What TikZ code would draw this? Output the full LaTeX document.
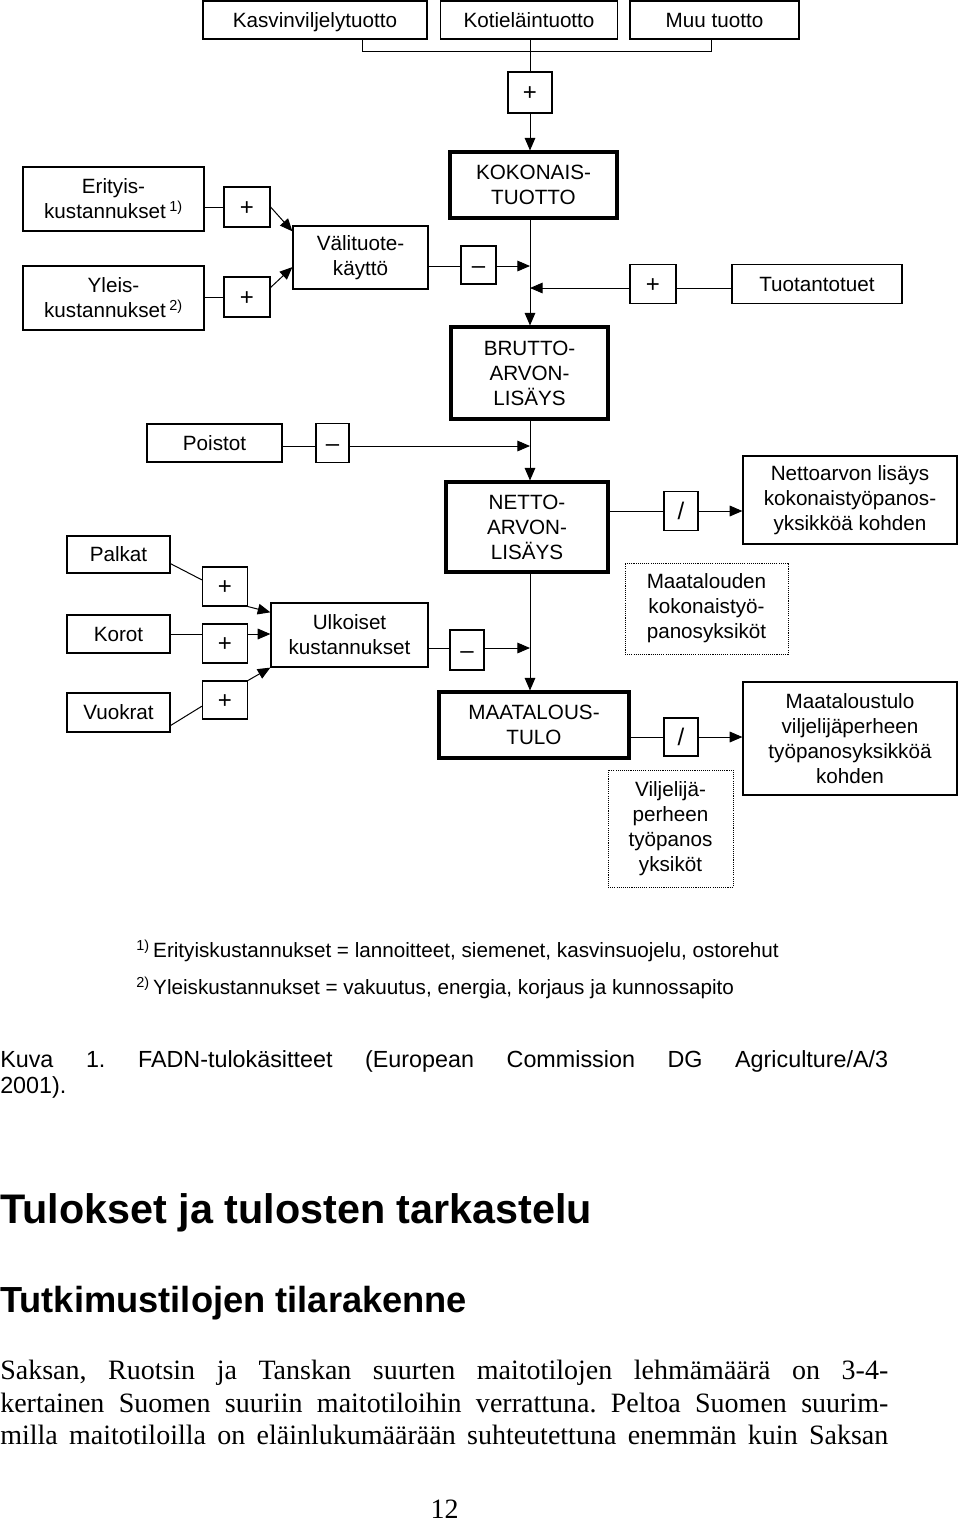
\documentclass[tikz,border=0pt]{standalone}
\usepackage{fontspec}
\setmainfont{Liberation Serif}
\setsansfont{Liberation Sans}
\usetikzlibrary{arrows.meta, calc}
\frenchspacing

\begin{document}
\begin{tikzpicture}[x=0.75pt, y=-0.75pt,
        sz/.style 2 args={minimum width=#1*0.75pt, minimum height=#2*0.75pt},
        box/.style={draw, line width=0.9pt, inner sep=0pt, align=center,
            font=\sffamily\fontsize{15.5}{18.75}\selectfont},
        one/.style={text height=11.1pt, text depth=0pt},
        opbox/.style={box, font=\sffamily\fontsize{18}{20}\selectfont, text height=12pt, text depth=0pt},
        thickbox/.style={box, line width=2.3pt},
        dotbox/.style={box, line width=0.7pt, dash pattern=on 0.8pt off 0.8pt},
        conn/.style={line width=0.75pt},
        arr/.style={conn, -{Triangle[length=9.5pt,width=8pt]}},
        txt/.style={inner sep=0pt, anchor=base west}]
                    \path[use as bounding box, fill=white] (0,0) rectangle (960,1522);

                    %products
                    \node[box, one, sz={224}{38}] (kasv) at (315,20) {Kasvinviljelytuotto};
                    \node[box, one, sz={177}{38}] (kotiel) at (529,20) {Kotieläintuotto};
                    \node[box, one, sz={169}{38}] (muu) at (714.5,20) {Muu tuotto};
                    \node[opbox, sz={44}{41}] (pl0) at (530,92.5) {+};
                    \coordinate (t1) at (362,51);
                    \coordinate (t2) at (711,51);
                    \draw[conn] (t1 |- kasv.south) -- (t1) -- (t2) -- (t2 |- muu.south);
                    \draw[conn] (pl0.north |- kotiel.south) -- (pl0.north);

                    %main column
                    \node[thickbox, sz={167}{66}] (kok) at (533.5,185) {KOKONAIS-\\TUOTTO};
                    \node[thickbox, sz={157}{92}] (brut) at (529.5,373) {BRUTTO-\\ARVON-\\LISÄYS};
                    \node[thickbox, sz={162}{90}] (netto) at (527,527) {NETTO-\\ARVON-\\LISÄYS};
                    \node[thickbox, sz={190}{66}] (maat) at (534,725) {MAATALOUS-\\TULO};
                    \coordinate (j1) at (530,266);
                    \coordinate (j2) at (530,288);
                    \coordinate (j3) at (530,446);
                    \coordinate (j4) at (530,648);
                    \draw[arr] (pl0.south) -- (pl0.south |- kok.north);
                    \draw[arr] (j1 |- kok.south) -- (j1 |- brut.north);
                    \draw[arr] (j1 |- brut.south) -- (j1 |- netto.north);
                    \draw[arr] (j1 |- netto.south) -- (j1 |- maat.north);

                    %intermediate consumption
                    \node[box, sz={181}{64}] (erit) at (113.5,199) {Erityis-\\kustannukset\,\textsuperscript{1)}};
                    \node[box, sz={181}{64}] (yleis) at (113.5,298) {Yleis-\\kustannukset\,\textsuperscript{2)}};
                    \node[opbox, sz={46}{40}] (pl1) at (247,207) {+};
                    \node[opbox, sz={46}{40}] (pl2) at (247,297) {+};
                    \node[box, sz={135}{63}] (vali) at (360.5,257.5) {Välituote-\\käyttö};
                    \node[opbox, sz={35}{38}] (mi1) at (478.5,265) {–};
                    \draw[conn] (erit.east |- pl1) -- (pl1);
                    \draw[conn] (yleis.east |- pl2) -- (pl2);
                    \draw[arr] (pl1.east) -- (vali.159);
                    \draw[arr] (pl2.22) -- (vali.188);
                    \draw[conn] (vali.east |- j1) -- (mi1.west |- j1);
                    \draw[arr] (mi1.east |- j1) -- (j1);

                    %subsidies
                    \node[box, one, sz={170}{39}] (tuki) at (817,284) {Tuotantotuet};
                    \node[opbox, sz={46}{39}] (pl3) at (653,284) {+};
                    \draw[conn] (tuki.west |- j2) -- (pl3.east |- j2);
                    \draw[arr] (pl3.west |- j2) -- (j2);

                    %depreciation
                    \node[box, one, sz={135}{38}] (poist) at (214.5,443) {Poistot};
                    \node[opbox, sz={33}{39}] (mi2) at (332.5,443) {–};
                    \draw[conn] (poist.east |- j3) -- (mi2.west |- j3);
                    \draw[arr] (mi2.east |- j3) -- (j3);

                    %per work unit
                    \node[opbox, sz={34}{39}] (sl1) at (681,511) {/};
                    \node[box, sz={214}{88}] (nlis) at (850,500) {Nettoarvon lisäys\\kokonaistyöpanos-\\yksikköä kohden};
                    \node[dotbox, sz={163}{91}] (mtk) at (706.5,608.5) {Maatalouden\\kokonaistyö-\\panosyksiköt};
                    \draw[conn] (netto.east |- sl1) -- (sl1.west);
                    \draw[arr] (sl1.east) -- (sl1.east -| nlis.west);

                    %external costs
                    \node[box, one, sz={103}{37}] (palk) at (118.5,554.5) {Palkat};
                    \node[box, one, sz={103}{38}] (korot) at (118.5,634) {Korot};
                    \node[box, one, sz={103}{39}] (vuok) at (118.5,712.5) {Vuokrat};
                    \node[opbox, sz={45}{39}] (pl4) at (225,586.5) {+};
                    \node[opbox, sz={45}{39}] (pl5) at (225,643.5) {+};
                    \node[opbox, sz={45}{38}] (pl6) at (225,700) {+};
                    \node[box, sz={157}{64}] (ulk) at (349.5,635) {Ulkoiset\\kustannukset};
                    \node[opbox, sz={34}{40}] (mi3) at (467,650) {–};
                    \draw[conn] (palk.-10) -- (pl4.164);
                    \draw[conn] (korot.east) -- (korot.east -| pl5.west);
                    \draw[conn] (vuok.-14) -- (pl6.195);
                    \draw[arr] (pl4.south east) -- (ulk.164);
                    \draw[arr] (korot.east -| pl5.east) -- (korot.east -| ulk.west);
                    \draw[arr] (pl6.north east) -- (ulk.south west);
                    \draw[conn] (ulk.east |- j4) -- (mi3.west |- j4);
                    \draw[arr] (mi3.east |- j4) -- (j4);

                    %farm income
                    \node[opbox, sz={34}{38}] (sl2) at (681,737) {/};
                    \node[box, sz={214}{113}] (mtul) at (850,738.5) {Maataloustulo\\viljelijäperheen\\työpanosyksikköä\\kohden};
                    \node[dotbox, sz={125}{117}] (vil) at (670.5,828.5) {Viljelijä-\\perheen\\työpanos\\yksiköt};
                    \draw[conn] (maat.east |- sl2) -- (sl2.west);
                    \draw[arr] (sl2.east) -- (sl2.east -| mtul.west);

                    %footnotes
                    \node[txt, font=\sffamily\fontsize{15.5}{18}\selectfont] (fn1) at (136,957)
                        {\textsuperscript{1)}\,Erityiskustannukset = lannoitteet, siemenet, kasvinsuojelu, ostorehut};
                    \node[txt, font=\sffamily\fontsize{15.5}{18}\selectfont] (fn2) at (136,994)
                        {\textsuperscript{2)}\,Yleiskustannukset = vakuutus, energia, korjaus ja kunnossapito};

                    %caption
                    \node[txt, font=\sffamily\fontsize{17.5}{20}\selectfont] (cap1) at (0,1067)
                        {\makebox[666pt][s]{Kuva 1. FADN-tulokäsitteet (European Commission DG Agriculture/A/3}};
                    \node[txt, font=\sffamily\fontsize{17.5}{20}\selectfont] (cap2) at (0,1093) {2001).};

                    %text
                    \node[txt, font=\sffamily\bfseries\fontsize{31}{36}\selectfont] (h1) at (0,1223) {Tulokset ja tulosten tarkastelu};
                    \node[txt, font=\sffamily\bfseries\fontsize{27.2}{31}\selectfont] (h2) at (0,1312) {Tutkimustilojen tilarakenne};
                    \node[txt, font=\fontsize{21}{25}\selectfont] (l1) at (0,1379)
                        {\makebox[666pt][s]{Saksan, Ruotsin ja Tanskan suurten maitotilojen lehmämäärä on 3-4-}};
                    \node[txt, font=\fontsize{21}{25}\selectfont] (l2) at (0,1412)
                        {\makebox[666pt][s]{kertainen Suomen suuriin maitotiloihin verrattuna. Peltoa Suomen suurim-}};
                    \node[txt, font=\fontsize{21}{25}\selectfont] (l3) at (0,1444)
                        {\makebox[666pt][s]{milla maitotiloilla on eläinlukumäärään suhteutettuna enemmän kuin Saksan}};
                    \node[inner sep=0pt, anchor=base, font=\fontsize{21}{25}\selectfont] (pg) at (444.5,1518) {12};

\end{tikzpicture}
\end{document}
